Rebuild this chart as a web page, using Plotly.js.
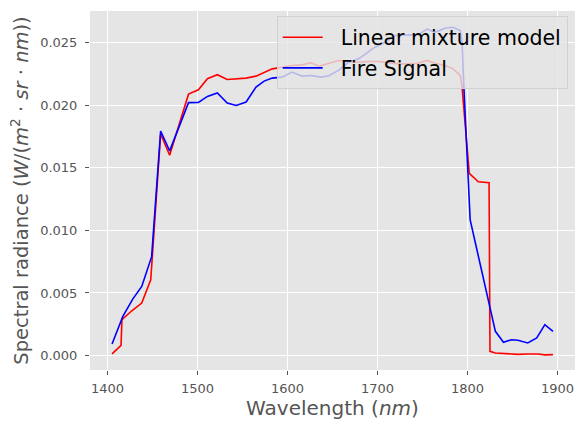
<!DOCTYPE html>
<html>
<head>
<meta charset="utf-8">
<script src="https://cdn.plot.ly/plotly-3.0.1.min.js"></script>
<style>
html,body{margin:0;padding:0;background:#fff;}
#chart{width:579px;height:422px;}
</style>
</head>
<body>
<div id="chart"></div>
<script>
// Linear mixture model (red)
const mixWavelength = [1405, 1415, 1416, 1427, 1438, 1448, 1459, 1469, 1490, 1501, 1511, 1522, 1533, 1543, 1554, 1565, 1574, 1583, 1594, 1605, 1616, 1626, 1635, 1644, 1657, 1668, 1679, 1690, 1701, 1712, 1723, 1734, 1745, 1755, 1764, 1775, 1784, 1792, 1794, 1802, 1812, 1824, 1824.3, 1825, 1831, 1842, 1856, 1867, 1878, 1886, 1895];
const mixRadiance = [0.00014, 0.00082, 0.00287, 0.00358, 0.0042, 0.00605, 0.0177, 0.0160, 0.02088, 0.02123, 0.02211, 0.02243, 0.02205, 0.0221, 0.02216, 0.02232, 0.02261, 0.0229, 0.02303, 0.02317, 0.02322, 0.02338, 0.02311, 0.02328, 0.02357, 0.02351, 0.02343, 0.02349, 0.02349, 0.0234, 0.0233, 0.0233, 0.02335, 0.02357, 0.02335, 0.02317, 0.0229, 0.02237, 0.02144, 0.01455, 0.01388, 0.0138, 0.001, 0.00034, 0.00021, 0.00016, 0.0001, 0.00013, 0.00013, 0.00006, 0.00008];

// Fire Signal (blue)
const fireWavelength = [1405, 1417, 1428, 1438, 1449, 1459, 1469, 1490, 1501, 1511, 1522, 1533, 1543, 1554, 1565, 1574, 1583, 1594, 1605, 1616, 1626, 1637, 1646, 1657, 1668, 1679, 1687, 1694, 1705, 1720, 1734, 1745, 1755, 1764, 1775, 1784, 1792, 1794, 1796, 1803, 1831, 1840, 1849, 1856, 1867, 1877, 1886, 1895];
const fireRadiance = [0.00093, 0.00313, 0.00451, 0.00552, 0.0079, 0.01794, 0.01635, 0.0202, 0.02022, 0.0207, 0.02097, 0.02017, 0.01998, 0.02025, 0.02144, 0.02192, 0.02216, 0.02224, 0.02264, 0.02232, 0.02237, 0.02224, 0.02235, 0.0228, 0.02343, 0.0237, 0.0241, 0.0245, 0.0249, 0.02556, 0.02561, 0.02561, 0.02608, 0.02582, 0.02614, 0.02622, 0.02596, 0.02502, 0.02144, 0.01083, 0.00194, 0.00106, 0.00127, 0.00122, 0.00101, 0.00141, 0.00247, 0.00194];

const seriesNames = ['Linear mixture model', 'Fire Signal'];
const xTicks = [1400, 1500, 1600, 1700, 1800, 1900];
const yTicks = [0.000, 0.005, 0.010, 0.015, 0.020, 0.025];

const pad = '\u00A0\u00A0';
const traces = [
  {x: mixWavelength, y: mixRadiance, mode: 'lines', name: pad + seriesNames[0], legendgroup: 'a',
   line: {color: '#FF0000', width: 1.6}},
  {x: fireWavelength, y: fireRadiance, mode: 'lines', name: pad + seriesNames[1], legendgroup: 'b',
   line: {color: '#0000FF', width: 1.6}}
];

const layout = {
  width: 579, height: 422,
  margin: {l: 90, r: 4, t: 11, b: 52},
  paper_bgcolor: '#FFFFFF',
  plot_bgcolor: '#E5E5E5',
  font: {family: 'DejaVu Sans', color: '#555555'},
  showlegend: true,
  legend: {
    x: 0.985, y: 0.985, xanchor: 'right', yanchor: 'top',
    bgcolor: 'rgba(229,229,229,0.8)', bordercolor: 'rgba(204,204,204,0.8)', borderwidth: 1,
    font: {family: 'DejaVu Sans', size: 20.5, color: '#000000'},
    traceorder: 'grouped', tracegroupgap: 1, itemwidth: 40
  },
  xaxis: {
    range: [1380.5, 1919.5],
    tickvals: xTicks, ticktext: xTicks.map(String),
    showgrid: true, gridcolor: '#FFFFFF', gridwidth: 1,
    zeroline: false, showline: false,
    ticks: 'outside', ticklen: 4, tickcolor: '#555555', tickwidth: 1,
    ticklabelstandoff: 2,
    tickfont: {family: 'DejaVu Sans', size: 13, color: '#555555'},
    title: {text: 'Wavelength (<i>nm</i>)', font: {family: 'DejaVu Sans', size: 20, color: '#555555'}, standoff: 6}
  },
  yaxis: {
    range: [-0.00115, 0.02752],
    tickvals: yTicks, ticktext: yTicks.map(v => v.toFixed(3)),
    showgrid: true, gridcolor: '#FFFFFF', gridwidth: 1,
    zeroline: false, showline: false,
    ticks: 'outside', ticklen: 4, tickcolor: '#555555', tickwidth: 1,
    ticklabelstandoff: 5,
    tickfont: {family: 'DejaVu Sans', size: 13, color: '#555555'},
    title: {text: 'Spectral radiance (<i>W</i>/(<i>m</i><sup>2</sup> · <i>sr</i> · <i>nm</i>))', font: {family: 'DejaVu Sans', size: 19.5, color: '#555555'}, standoff: 6}
  }
};

Plotly.newPlot('chart', traces, layout, {displayModeBar: false, staticPlot: true});
</script>
</body>
</html>
